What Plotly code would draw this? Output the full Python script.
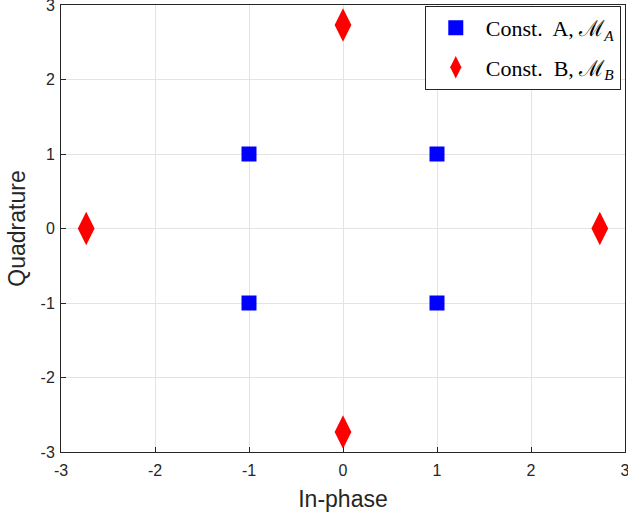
import plotly.graph_objects as go

# Constellation A (QPSK-like)
a_i = [1, -1, -1, 1]
a_q = [1, 1, -1, -1]
# Constellation B (rotated, radius 1+sqrt(3))
b_i = [2.732, 0, -2.732, 0]
b_q = [0, 2.732, 0, -2.732]

ticks = [-3, -2, -1, 0, 1, 2, 3]

fig = go.Figure()
fig.add_trace(go.Scatter(x=a_i, y=a_q, mode="markers", name="Const.  A, ℳ<sub><i>A</i></sub>",
                         legendgroup="a",
                         marker=dict(symbol="square", size=15, color="#0000ff")))
fig.add_trace(go.Scatter(x=b_i, y=b_q, mode="markers", name="Const.  B, ℳ<sub><i>B</i></sub>",
                         legendgroup="b",
                         marker=dict(symbol="diamond-tall", size=24, color="#ff0000")))

axis_common = dict(
    range=[-3, 3], tickvals=ticks, ticktext=[str(t) for t in ticks],
    showgrid=True, gridcolor="#e3e3e3", gridwidth=1,
    zeroline=False, showline=True, linecolor="#262626", linewidth=1, mirror=True,
    ticks="inside", ticklen=5, tickcolor="#262626",
    tickfont=dict(family="Liberation Sans, Arial", size=16, color="#262626"),
    ticklabeloverflow="allow", automargin=False,
)

fig.update_layout(
    width=628, height=514,
    margin=dict(l=61, r=3, t=5, b=62),
    paper_bgcolor="white", plot_bgcolor="white",
    xaxis=dict(axis_common, ticklabelstandoff=4,
               title=dict(text="In-phase", standoff=12,
               font=dict(family="Liberation Sans, Arial", size=23, color="#262626"))),
    yaxis=dict(axis_common, ticklabelstandoff=2,
               title=dict(text="Quadrature", standoff=8,
               font=dict(family="Liberation Sans, Arial", size=23, color="#262626"))),
    legend=dict(x=0.645, y=0.998, xanchor="left", yanchor="top",
                bgcolor="white", bordercolor="#262626", borderwidth=1,
                font=dict(family="Liberation Serif, Times New Roman", size=22, color="black"),
                itemsizing="trace", itemwidth=50,
                traceorder="grouped", tracegroupgap=8),
    showlegend=True,
)

fig.write_html("out.html", config={"displayModeBar": False},
               post_script="document.body.style.margin='0';document.body.style.overflow='hidden';")
